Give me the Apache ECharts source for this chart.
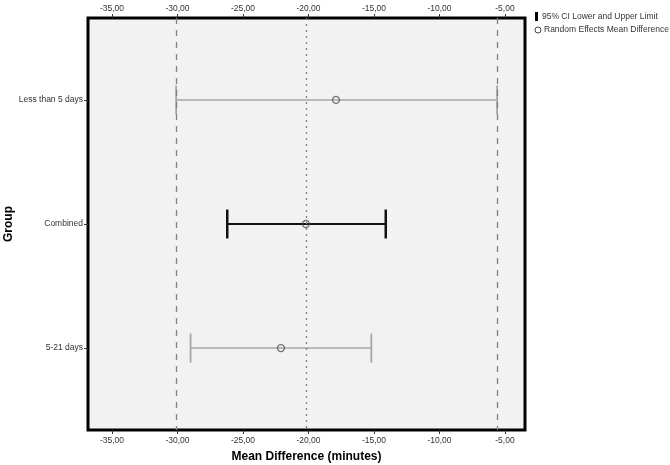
<!DOCTYPE html>
<html>
<head>
<meta charset="utf-8">
<script src="https://cdn.jsdelivr.net/npm/echarts@6/dist/echarts.min.js"></script>
<style>html,body{margin:0;padding:0;background:#fff;}#c{width:670px;height:465px;}</style>
</head>
<body>
<div id="c"></div>
<script>
var categories = ['Less than 5 days', 'Combined', '5-21 days'];
var ciLower = [-30.1, -26.2, -29.0];
var ciUpper = [-5.6, -14.1, -15.2];
var meanDiff = [-17.9, -20.2, -22.1];
var xTicks = [-35, -30, -25, -20, -15, -10, -5];
var catPos = [0, 1, 2];

var FONT = 'Liberation Sans, Arial, sans-serif';
var chart = echarts.init(document.getElementById('c'), null, {renderer: 'canvas'});

var barData = categories.map(function (c, i) { return [ciLower[i], catPos[i], ciUpper[i]]; });
var meanData = categories.map(function (c, i) { return [meanDiff[i], catPos[i]]; });

function fmt(v) { return v.toFixed(2).replace('.', ','); }

var xAxisCommon = {
  type: 'value', min: -36.83, max: -3.47,
  axisLine: {show: false, onZero: false},
  splitLine: {show: false},
  axisTick: {show: true, length: 4, customValues: xTicks, lineStyle: {color: '#333', width: 1}},
  axisLabel: {customValues: xTicks, formatter: fmt, fontFamily: FONT, fontSize: 8.5, color: '#333', margin: 6}
};

chart.setOption({
  animation: false,
  backgroundColor: '#fff',
  grid: {left: 88, right: 145, top: 18, bottom: 35, outerBoundsMode: 'none', containLabel: false,
    show: true, backgroundColor: '#f2f2f2', borderColor: '#000', borderWidth: 3},
  xAxis: [
    Object.assign({}, xAxisCommon, {position: 'bottom', name: 'Mean Difference (minutes)', nameLocation: 'middle', nameGap: 21,
      nameMoveOverlap: false,
      nameTextStyle: {fontFamily: FONT, fontSize: 12, fontWeight: 'bold', color: '#000'}}),
    Object.assign({}, xAxisCommon, {position: 'top', axisLabel: Object.assign({}, xAxisCommon.axisLabel, {margin: 5})})
  ],
  yAxis: {
    type: 'value', min: -0.66, max: 2.66, inverse: true,
    axisLine: {show: false, onZero: false}, splitLine: {show: false},
    axisTick: {show: true, length: 4, customValues: catPos, lineStyle: {color: '#333'}},
    axisLabel: {customValues: catPos, formatter: function (v) { return categories[Math.round(v)]; },
      fontFamily: FONT, fontSize: 8.5, color: '#333', margin: 5}
  },
  series: [
    {
      type: 'custom', name: '95% CI Lower and Upper Limit', xAxisIndex: 0,
      data: barData, encode: {x: [0, 2], y: 1},
      renderItem: function (params, api) {
        var lo = api.coord([api.value(0), api.value(1)]);
        var hi = api.coord([api.value(2), api.value(1)]);
        var strong = params.dataIndex === 1;
        var col = strong ? '#111' : '#a6a6a6';
        var lw = strong ? 2 : 1.5;
        var cw = strong ? 2.5 : 1.8;
        var h = 14.5;
        return {type: 'group', children: [
          {type: 'line', shape: {x1: lo[0], y1: lo[1], x2: hi[0], y2: hi[1]}, style: {stroke: col, lineWidth: lw}},
          {type: 'line', shape: {x1: lo[0], y1: lo[1] - h, x2: lo[0], y2: lo[1] + h}, style: {stroke: col, lineWidth: cw}},
          {type: 'line', shape: {x1: hi[0], y1: hi[1] - h, x2: hi[0], y2: hi[1] + h}, style: {stroke: col, lineWidth: cw}}
        ]};
      },
      z: 3
    },
    {
      type: 'scatter', name: 'Random Effects Mean Difference', xAxisIndex: 0,
      data: meanData, symbol: 'circle', symbolSize: 7,
      itemStyle: {color: 'rgba(0,0,0,0)', borderColor: '#555', borderWidth: 1.3},
      z: 4,
      markLine: {
        silent: true, symbol: 'none', label: {show: false}, animation: false,
        data: [
          {xAxis: ciLower[0], lineStyle: {type: [6, 6], color: '#808080', width: 1.3}},
          {xAxis: ciUpper[0], lineStyle: {type: [6, 6], color: '#808080', width: 1.3}},
          {xAxis: meanDiff[1], lineStyle: {type: [2, 4], color: '#808080', width: 1.3}}
        ]
      }
    }
  ],
  graphic: [
    {type: 'text', x: 9, y: 224, rotation: Math.PI / 2,
      style: {text: 'Group', font: 'bold 12px ' + FONT, fill: '#000', align: 'center', verticalAlign: 'middle'}},
    {type: 'rect', left: 535, top: 12, shape: {width: 3, height: 9}, style: {fill: '#000'}},
    {type: 'text', left: 542, top: 12, style: {text: '95% CI Lower and Upper Limit', font: '8.5px ' + FONT, fill: '#333'}},
    {type: 'circle', shape: {cx: 538, cy: 30, r: 3}, style: {fill: 'none', stroke: '#444', lineWidth: 1}},
    {type: 'text', left: 544, top: 25, style: {text: 'Random Effects Mean Difference', font: '8.5px ' + FONT, fill: '#333'}}
  ]
});
</script>
</body>
</html>
